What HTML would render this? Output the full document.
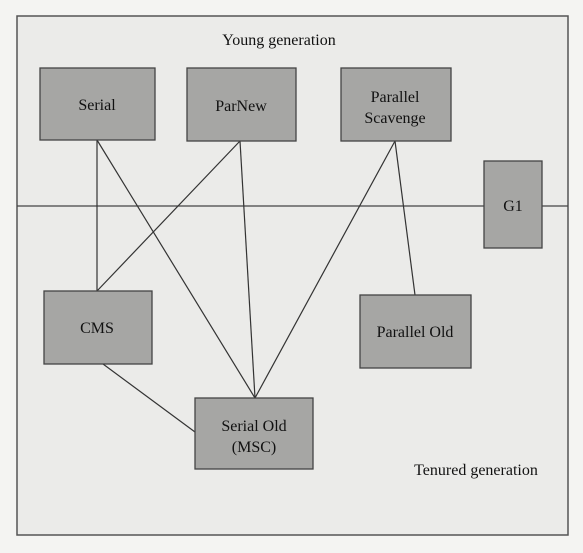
<!DOCTYPE html>
<html><head><meta charset="utf-8"><style>
html,body{margin:0;padding:0;background:#f4f4f2;}
svg{display:block;}
text{font-family:"Liberation Serif",serif;fill:#111;}
</style></head><body>
<svg width="583" height="553" viewBox="0 0 583 553">
<rect x="17" y="16" width="551" height="519" fill="#ebebe9" stroke="#555" stroke-width="1.5"/>
<line x1="17" y1="206" x2="568" y2="206" stroke="#444" stroke-width="1.3"/>
<g stroke="#333" stroke-width="1.2">
<line x1="97" y1="140" x2="97" y2="291"/>
<line x1="97" y1="140" x2="255" y2="398"/>
<line x1="240" y1="141" x2="97" y2="291"/>
<line x1="240" y1="141" x2="255" y2="398"/>
<line x1="395" y1="141" x2="255" y2="398"/>
<line x1="395" y1="141" x2="415" y2="295"/>
<line x1="103" y1="364" x2="195" y2="432"/>
</g>
<g fill="#a6a6a4" stroke="#444" stroke-width="1.3">
<rect x="40" y="68" width="115" height="72"/>
<rect x="187" y="68" width="109" height="73"/>
<rect x="341" y="68" width="110" height="73"/>
<rect x="484" y="161" width="58" height="87"/>
<rect x="44" y="291" width="108" height="73"/>
<rect x="360" y="295" width="111" height="73"/>
<rect x="195" y="398" width="118" height="71"/>
</g>
<g font-size="16" text-anchor="middle">
<text x="279" y="45">Young generation</text>
<text x="97" y="110">Serial</text>
<text x="241" y="111">ParNew</text>
<text x="395" y="102">Parallel</text>
<text x="395" y="123">Scavenge</text>
<text x="513" y="211">G1</text>
<text x="97" y="333">CMS</text>
<text x="415" y="337">Parallel Old</text>
<text x="254" y="431">Serial Old</text>
<text x="254" y="452">(MSC)</text>
<text x="476" y="475">Tenured generation</text>
</g>
</svg>
</body></html>
